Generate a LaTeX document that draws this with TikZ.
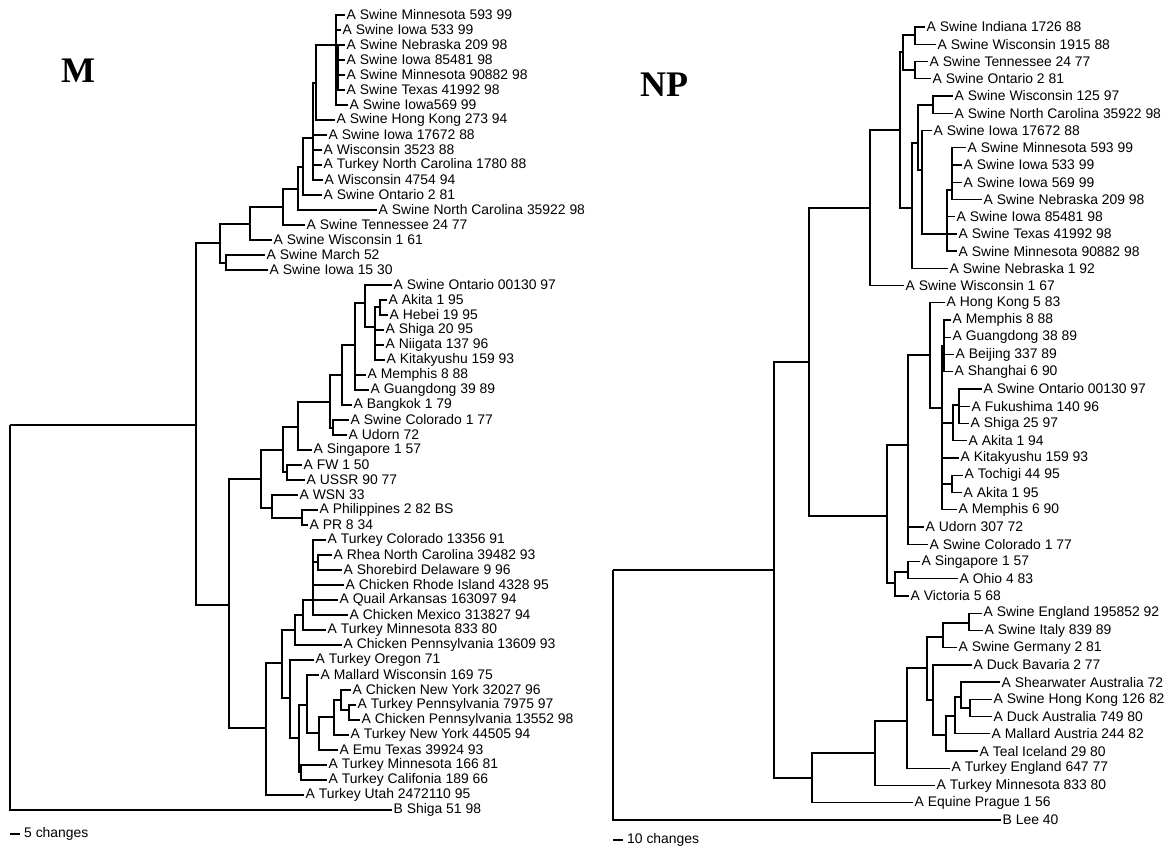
\documentclass[tikz,border=0pt]{standalone}
\usepackage{fontspec}
\setmainfont{Liberation Sans}
\newfontfamily\titlefont{Liberation Serif}
\usepackage{tikz}
\usetikzlibrary{positioning,calc}

\newcommand{\taxonfont}{\fontsize{13.9}{15}\selectfont}
\tikzset{
  taxon/.style={anchor=west, inner sep=1.5pt, font=\taxonfont},
  branch/.style={line width=1.3pt},
  treetitle/.style={font=\titlefont\bfseries\fontsize{36}{36}\selectfont, inner sep=0pt},
  scalebar/.style={anchor=west, inner sep=1pt, font=\taxonfont},
}

\begin{document}
\begin{tikzpicture}[x=1pt, y=-1pt]
\useasboundingbox (0,0) rectangle (1173,849);

\node[treetitle] (mtitle) at (78,71) {M};
\node[treetitle] (nptitle) at (664,85) {NP};

%M tree, leaves
\node[taxon] (m1) at (345,15) {A Swine Minnesota 593 99};
\node[taxon] (m2) at (341,30) {A Swine Iowa 533 99};
\node[taxon] (m3) at (345,45) {A Swine Nebraska 209 98};
\node[taxon] (m4) at (345,60) {A Swine Iowa 85481 98};
\node[taxon] (m5) at (345,75) {A Swine Minnesota 90882 98};
\node[taxon] (m6) at (345,90) {A Swine Texas 41992 98};
\node[taxon] (m7) at (348,105) {A Swine Iowa569 99};
\node[taxon] (m8) at (335,120) {A Swine Hong Kong 273 94};
\node[taxon] (m9) at (327,135) {A Swine Iowa 17672 88};
\node[taxon] (m10) at (322,150) {A Wisconsin 3523 88};
\node[taxon] (m11) at (322,165) {A Turkey North Carolina 1780 88};
\node[taxon] (m12) at (323,180) {A Wisconsin 4754 94};
\node[taxon] (m13) at (322,195) {A Swine Ontario 2 81};
\node[taxon] (m14) at (377,210) {A Swine North Carolina 35922 98};
\node[taxon] (m15) at (305,225) {A Swine Tennessee 24 77};
\node[taxon] (m16) at (272,240) {A Swine Wisconsin 1 61};
\node[taxon] (m17) at (265,255) {A Swine March 52};
\node[taxon] (m18) at (268,270) {A Swine Iowa 15 30};
\node[taxon] (m19) at (392,285) {A Swine Ontario 00130 97};
\node[taxon] (m20) at (387,300) {A Akita 1 95};
\node[taxon] (m21) at (388,315) {A Hebei 19 95};
\node[taxon] (m22) at (384,330) {A Shiga 20 95};
\node[taxon] (m23) at (384,345) {A Niigata 137 96};
\node[taxon] (m24) at (385,360) {A Kitakyushu 159 93};
\node[taxon] (m25) at (366,375) {A Memphis 8 88};
\node[taxon] (m26) at (369,390) {A Guangdong 39 89};
\node[taxon] (m27) at (352,405) {A Bangkok 1 79};
\node[taxon] (m28) at (349,420) {A Swine Colorado 1 77};
\node[taxon] (m29) at (347,435) {A Udorn 72};
\node[taxon] (m30) at (312,450) {A Singapore 1 57};
\node[taxon] (m31) at (302,465) {A FW 1 50};
\node[taxon] (m32) at (305,480) {A USSR 90 77};
\node[taxon] (m33) at (298,495) {A WSN 33};
\node[taxon] (m34) at (318,510) {A Philippines 2 82 BS};
\node[taxon] (m35) at (308,525) {A PR 8 34};
\node[taxon] (m36) at (326,540) {A Turkey Colorado 13356 91};
\node[taxon] (m37) at (332,555) {A Rhea North Carolina 39482 93};
\node[taxon] (m38) at (342,570) {A Shorebird Delaware 9 96};
\node[taxon] (m39) at (344,585) {A Chicken Rhode Island 4328 95};
\node[taxon] (m40) at (338,600) {A Quail Arkansas 163097 94};
\node[taxon] (m41) at (348,615) {A Chicken Mexico 313827 94};
\node[taxon] (m42) at (326,630) {A Turkey Minnesota 833 80};
\node[taxon] (m43) at (342,645) {A Chicken Pennsylvania 13609 93};
\node[taxon] (m44) at (314,660) {A Turkey Oregon 71};
\node[taxon] (m45) at (319,675) {A Mallard Wisconsin 169 75};
\node[taxon] (m46) at (351,690) {A Chicken New York 32027 96};
\node[taxon] (m47) at (356,705) {A Turkey Pennsylvania 7975 97};
\node[taxon] (m48) at (360,720) {A Chicken Pennsylvania 13552 98};
\node[taxon] (m49) at (349,735) {A Turkey New York 44505 94};
\node[taxon] (m50) at (338,750) {A Emu Texas 39924 93};
\node[taxon] (m51) at (327,765) {A Turkey Minnesota 166 81};
\node[taxon] (m52) at (327,780) {A Turkey Califonia 189 66};
\node[taxon] (m53) at (304,795) {A Turkey Utah 2472110 95};
\node[taxon] (m54) at (392,810) {B Shiga 51 98};

%M tree, branch points
\coordinate (mR) at (10,425);
\coordinate (mA) at (196,425);
\coordinate (mS) at (220,243);
\coordinate (mSM) at (226,263);
\coordinate (mS1) at (250,224);
\coordinate (mS2) at (283,207);
\coordinate (mS3) at (298,189);
\coordinate (mS4) at (303,167);
\coordinate (mS5) at (313,138);
\coordinate (mS6) at (316,83);
\coordinate (mS7) at (336,45);
\coordinate (mS8) at (338,68);
\coordinate (mH) at (229,605);
\coordinate (mHh) at (261,479);
\coordinate (mN282) at (283,450);
\coordinate (mFU) at (287,472);
\coordinate (mN298) at (298,427);
\coordinate (mN330) at (330,402);
\coordinate (mCU) at (333,428);
\coordinate (mN342) at (342,375);
\coordinate (mN355) at (355,345);
\coordinate (mN365) at (365,303);
\coordinate (mN375) at (375,327);
\coordinate (mAH) at (380,307);
\coordinate (mW) at (272,508);
\coordinate (mPP) at (302,518);
\coordinate (mAv) at (266,728);
\coordinate (mN282b) at (282,663);
\coordinate (mN295) at (295,630);
\coordinate (mN303) at (303,615);
\coordinate (mN313) at (313,600);
\coordinate (mRS) at (318,562);
\coordinate (mN290) at (290,698);
\coordinate (mN299) at (299,738);
\coordinate (mTMC) at (301,772);
\coordinate (mN307) at (307,705);
\coordinate (mN319) at (319,733);
\coordinate (mN334) at (334,717);
\coordinate (mN341) at (341,700);
\coordinate (mN349) at (349,710);

%M tree, branches
\foreach \c in {mA,m54} \draw[branch] (mR) |- (\c);
\foreach \c in {mS,mH} \draw[branch] (mA) |- (\c);
\foreach \c in {mS1,mSM} \draw[branch] (mS) |- (\c);
\foreach \c in {m17,m18} \draw[branch] (mSM) |- (\c);
\foreach \c in {mS2,m16} \draw[branch] (mS1) |- (\c);
\foreach \c in {mS3,m15} \draw[branch] (mS2) |- (\c);
\foreach \c in {mS4,m14} \draw[branch] (mS3) |- (\c);
\foreach \c in {mS5,m13} \draw[branch] (mS4) |- (\c);
\foreach \c in {mS6,m9,m10,m11,m12} \draw[branch] (mS5) |- (\c);
\foreach \c in {mS7,m8} \draw[branch] (mS6) |- (\c);
\foreach \c in {m1,m2,mS8,m7} \draw[branch] (mS7) |- (\c);
\foreach \c in {m3,m4,m5,m6} \draw[branch] (mS8) |- (\c);
\foreach \c in {mHh,mAv} \draw[branch] (mH) |- (\c);
\foreach \c in {mN282,mW} \draw[branch] (mHh) |- (\c);
\foreach \c in {mN298,mFU} \draw[branch] (mN282) |- (\c);
\foreach \c in {m31,m32} \draw[branch] (mFU) |- (\c);
\foreach \c in {mN330,m30} \draw[branch] (mN298) |- (\c);
\foreach \c in {mN342,mCU} \draw[branch] (mN330) |- (\c);
\foreach \c in {m28,m29} \draw[branch] (mCU) |- (\c);
\foreach \c in {mN355,m27} \draw[branch] (mN342) |- (\c);
\foreach \c in {mN365,m25,m26} \draw[branch] (mN355) |- (\c);
\foreach \c in {m19,mN375} \draw[branch] (mN365) |- (\c);
\foreach \c in {mAH,m22,m23,m24} \draw[branch] (mN375) |- (\c);
\foreach \c in {m20,m21} \draw[branch] (mAH) |- (\c);
\foreach \c in {m33,mPP} \draw[branch] (mW) |- (\c);
\foreach \c in {m34,m35} \draw[branch] (mPP) |- (\c);
\foreach \c in {mN282b,m53} \draw[branch] (mAv) |- (\c);
\foreach \c in {mN295,mN290} \draw[branch] (mN282b) |- (\c);
\foreach \c in {mN303,m43} \draw[branch] (mN295) |- (\c);
\foreach \c in {mN313,m42} \draw[branch] (mN303) |- (\c);
\foreach \c in {m36,mRS,m39,m40,m41} \draw[branch] (mN313) |- (\c);
\foreach \c in {m37,m38} \draw[branch] (mRS) |- (\c);
\foreach \c in {m44,mN299} \draw[branch] (mN290) |- (\c);
\foreach \c in {mN307,mTMC} \draw[branch] (mN299) |- (\c);
\foreach \c in {m51,m52} \draw[branch] (mTMC) |- (\c);
\foreach \c in {m45,mN319} \draw[branch] (mN307) |- (\c);
\foreach \c in {mN334,m50} \draw[branch] (mN319) |- (\c);
\foreach \c in {mN341,m49} \draw[branch] (mN334) |- (\c);
\foreach \c in {m46,mN349} \draw[branch] (mN341) |- (\c);
\foreach \c in {m47,m48} \draw[branch] (mN349) |- (\c);

%M scale
\coordinate (mbar) at (10,834);
\node[scalebar] (mscale) at (23,834) {5 changes};
\draw[branch] (mbar) -- ++(10,0);

%NP tree, leaves
\node[taxon] (n1) at (925,27.0) {A Swine Indiana 1726 88};
\node[taxon] (n2) at (936,44.2) {A Swine Wisconsin 1915 88};
\node[taxon] (n3) at (928,61.5) {A Swine Tennessee 24 77};
\node[taxon] (n4) at (931,78.7) {A Swine Ontario 2 81};
\node[taxon] (n5) at (953,96.0) {A Swine Wisconsin 125 97};
\node[taxon] (n6) at (953,113.2) {A Swine North Carolina 35922 98};
\node[taxon] (n7) at (932,130.4) {A Swine Iowa 17672 88};
\node[taxon] (n8) at (966,147.7) {A Swine Minnesota 593 99};
\node[taxon] (n9) at (962,164.9) {A Swine Iowa 533 99};
\node[taxon] (n10) at (962,182.2) {A Swine Iowa 569 99};
\node[taxon] (n11) at (982,199.4) {A Swine Nebraska 209 98};
\node[taxon] (n12) at (955,216.6) {A Swine Iowa 85481 98};
\node[taxon] (n13) at (957,233.9) {A Swine Texas 41992 98};
\node[taxon] (n14) at (957,251.1) {A Swine Minnesota 90882 98};
\node[taxon] (n15) at (948,268.4) {A Swine Nebraska 1 92};
\node[taxon] (n16) at (904,285.6) {A Swine Wisconsin 1 67};
\node[taxon] (n17) at (945,302.8) {A Hong Kong 5 83};
\node[taxon] (n18) at (951,320.1) {A Memphis 8 88};
\node[taxon] (n19) at (951,337.3) {A Guangdong 38 89};
\node[taxon] (n20) at (954,354.6) {A Beijing 337 89};
\node[taxon] (n21) at (953,371.8) {A Shanghai 6 90};
\node[taxon] (n22) at (982,389.0) {A Swine Ontario 00130 97};
\node[taxon] (n23) at (970,406.3) {A Fukushima 140 96};
\node[taxon] (n24) at (969,423.5) {A Shiga 25 97};
\node[taxon] (n25) at (967,440.8) {A Akita 1 94};
\node[taxon] (n26) at (959,458.0) {A Kitakyushu 159 93};
\node[taxon] (n27) at (963,475.2) {A Tochigi 44 95};
\node[taxon] (n28) at (962,492.5) {A Akita 1 95};
\node[taxon] (n29) at (957,509.7) {A Memphis 6 90};
\node[taxon] (n30) at (924,527.0) {A Udorn 307 72};
\node[taxon] (n31) at (928,544.2) {A Swine Colorado 1 77};
\node[taxon] (n32) at (920,561.4) {A Singapore 1 57};
\node[taxon] (n33) at (958,578.7) {A Ohio 4 83};
\node[taxon] (n34) at (909,595.9) {A Victoria 5 68};
\node[taxon] (n35) at (982,613.2) {A Swine England 195852 92};
\node[taxon] (n36) at (983,630.4) {A Swine Italy 839 89};
\node[taxon] (n37) at (957,647.6) {A Swine Germany 2 81};
\node[taxon] (n38) at (972,664.9) {A Duck Bavaria 2 77};
\node[taxon] (n39) at (1000,682.1) {A Shearwater Australia 72};
\node[taxon] (n40) at (992,699.4) {A Swine Hong Kong 126 82};
\node[taxon] (n41) at (992,716.6) {A Duck Australia 749 80};
\node[taxon] (n42) at (990,733.8) {A Mallard Austria 244 82};
\node[taxon] (n43) at (978,751.1) {A Teal Iceland 29 80};
\node[taxon] (n44) at (950,768.3) {A Turkey England 647 77};
\node[taxon] (n45) at (935,785.6) {A Turkey Minnesota 833 80};
\node[taxon] (n46) at (913,802.8) {A Equine Prague 1 56};
\node[taxon] (n47) at (1001,820.0) {B Lee 40};

%NP tree, branch points
\coordinate (nR) at (613,570);
\coordinate (nA) at (774,570);
\coordinate (nB) at (809,362);
\coordinate (nRS0) at (870,208);
\coordinate (nRS1) at (900,130);
\coordinate (nRSa) at (903,52);
\coordinate (nIW) at (915,35);
\coordinate (nTO) at (915,70);
\coordinate (nRS2) at (912,208);
\coordinate (nRS3) at (918,143);
\coordinate (nWN) at (933,105);
\coordinate (nRS4) at (922,170);
\coordinate (nRS5) at (947,234);
\coordinate (nRS6) at (952,190);
\coordinate (nH0) at (887,516);
\coordinate (nH1) at (908,445);
\coordinate (nH3) at (930,355);
\coordinate (nH4) at (942,408);
\coordinate (nMG) at (944,346);
\coordinate (nJ1) at (953,423);
\coordinate (nJ2) at (959,405);
\coordinate (nTA) at (952,484);
\coordinate (nH2) at (895,583);
\coordinate (nSO) at (908,572);
\coordinate (nE0) at (812,778);
\coordinate (nE1) at (875,753);
\coordinate (nE2) at (907,721);
\coordinate (nE3) at (927,668);
\coordinate (nE4) at (943,637);
\coordinate (nE5) at (969,623);
\coordinate (nE6) at (933,700);
\coordinate (nE7) at (946,735);
\coordinate (nE8) at (955,716);
\coordinate (nE9) at (961,697);
\coordinate (nE10) at (970,708);

%NP tree, branches
\foreach \c in {nA,n47} \draw[branch] (nR) |- (\c);
\foreach \c in {nB,nE0} \draw[branch] (nA) |- (\c);
\foreach \c in {nRS0,nH0} \draw[branch] (nB) |- (\c);
\foreach \c in {nRS1,n16} \draw[branch] (nRS0) |- (\c);
\foreach \c in {nRSa,nRS2} \draw[branch] (nRS1) |- (\c);
\foreach \c in {nIW,nTO} \draw[branch] (nRSa) |- (\c);
\foreach \c in {n1,n2} \draw[branch] (nIW) |- (\c);
\foreach \c in {n3,n4} \draw[branch] (nTO) |- (\c);
\foreach \c in {nRS3,n15} \draw[branch] (nRS2) |- (\c);
\foreach \c in {nWN,nRS4} \draw[branch] (nRS3) |- (\c);
\foreach \c in {n5,n6} \draw[branch] (nWN) |- (\c);
\foreach \c in {n7,nRS5} \draw[branch] (nRS4) |- (\c);
\foreach \c in {nRS6,n12,n13,n14} \draw[branch] (nRS5) |- (\c);
\foreach \c in {n8,n9,n10,n11} \draw[branch] (nRS6) |- (\c);
\foreach \c in {nH1,nH2} \draw[branch] (nH0) |- (\c);
\foreach \c in {nH3,n30,n31} \draw[branch] (nH1) |- (\c);
\foreach \c in {n17,nH4} \draw[branch] (nH3) |- (\c);
\foreach \c in {nMG,nJ1,n26,nTA,n29} \draw[branch] (nH4) |- (\c);
\foreach \c in {n18,n19,n20,n21} \draw[branch] (nMG) |- (\c);
\foreach \c in {nJ2,n25} \draw[branch] (nJ1) |- (\c);
\foreach \c in {n22,n23,n24} \draw[branch] (nJ2) |- (\c);
\foreach \c in {n27,n28} \draw[branch] (nTA) |- (\c);
\foreach \c in {nSO,n34} \draw[branch] (nH2) |- (\c);
\foreach \c in {n32,n33} \draw[branch] (nSO) |- (\c);
\foreach \c in {nE1,n46} \draw[branch] (nE0) |- (\c);
\foreach \c in {nE2,n45} \draw[branch] (nE1) |- (\c);
\foreach \c in {nE3,n44} \draw[branch] (nE2) |- (\c);
\foreach \c in {nE4,nE6} \draw[branch] (nE3) |- (\c);
\foreach \c in {nE5,n37} \draw[branch] (nE4) |- (\c);
\foreach \c in {n35,n36} \draw[branch] (nE5) |- (\c);
\foreach \c in {n38,nE7} \draw[branch] (nE6) |- (\c);
\foreach \c in {nE8,n43} \draw[branch] (nE7) |- (\c);
\foreach \c in {nE9,n42} \draw[branch] (nE8) |- (\c);
\foreach \c in {n39,nE10} \draw[branch] (nE9) |- (\c);
\foreach \c in {n40,n41} \draw[branch] (nE10) |- (\c);

%NP scale
\coordinate (npbar) at (613,840);
\node[scalebar] (npscale) at (626,840) {10 changes};
\draw[branch] (npbar) -- ++(10,0);

\end{tikzpicture}
\end{document}
